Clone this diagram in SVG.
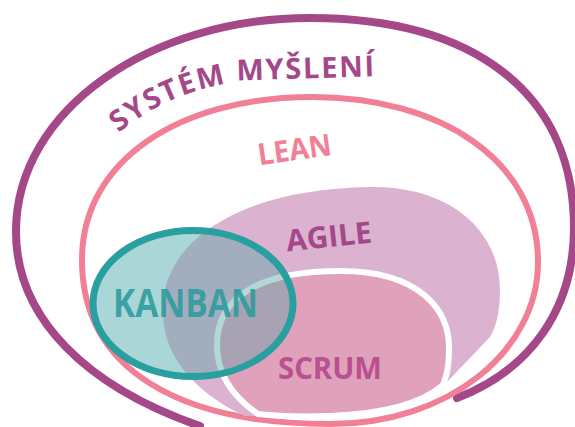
<svg xmlns="http://www.w3.org/2000/svg" width="575" height="427" viewBox="0 0 575 427">
<style>
.lbl{font-family:"Open Sans","Liberation Sans",sans-serif;font-weight:700;}
.ring{fill:none;stroke-linecap:round;stroke-linejoin:round;}
</style>
<defs>
<clipPath id="kclip"><ellipse cx="193" cy="303.5" rx="100" ry="73"/></clipPath>
<path id="agileShape" d="M 245,416 C 192,392 160,352 163,305 C 166,240 240,189 370,187 C 452,186 500,232 500,290 C 500,310 497,325 490,337 L 447,382 C 420,405 380,413 330,415 C 300,416 270,416 245,416 Z"/>
<path id="scrumShape" d="M 258,414 C 230,395 217,372 217,345 C 217,300 255,271 340,271 C 420,271 450,310 449,350 C 449,365 446,378 443,385 C 420,405 380,414 330,416 C 300,417 275,416 258,414 Z"/>
<path id="sysPath" d="M 117,134 C 150,108 185,88 250,80 L 385,76"/>
</defs>
<rect width="575" height="427" fill="#ffffff"/>
<g id="system">
<path class="ring" d="M 200,426 C 90,388 15,320 16,230 C 17,110 150,18 310,18 C 470,18 575,90 574,230 C 573,310 530,370 457,398" stroke="#a5488a" stroke-width="8"/>
</g>
<g id="lean">
<path class="ring" d="M 330,424 C 180,424 82,370 82,260 C 82,160 180,97 312,97 C 440,97 538,160 538,262 C 538,350 450,424 330,424 Z" stroke="#f17f95" stroke-width="6"/>
</g>
<g id="agile">
<use href="#agileShape" fill="#dbb3d0"/>
</g>
<g id="scrum">
<use href="#scrumShape" fill="#e0a1bb" stroke="#ffffff" stroke-width="6"/>
</g>
<g id="kanban">
<ellipse cx="193" cy="303.5" rx="100" ry="73" fill="#86c4c7" fill-opacity="0.7"/>
<g clip-path="url(#kclip)">
<use href="#agileShape" fill="#a2adbd"/>
<use href="#scrumShape" fill="#a8a3b3" stroke="#b2d8d9" stroke-width="6"/>
</g>
<ellipse cx="193" cy="303.5" rx="100" ry="73" fill="none" stroke="#2a9fa0" stroke-width="7"/>
</g>
<g id="labels">
<text class="lbl" font-size="29" fill="#a5488a"><textPath href="#sysPath" startOffset="2" textLength="268" lengthAdjust="spacing">SYSTÉM MYŠLENÍ</textPath></text>
<text class="lbl" font-size="30" fill="#f17f95" x="296" y="160" text-anchor="middle" textLength="74" lengthAdjust="spacingAndGlyphs" transform="rotate(-8 296 160)">LEAN</text>
<text class="lbl" font-size="30" fill="#a5488a" x="330" y="247" text-anchor="middle" textLength="86" lengthAdjust="spacingAndGlyphs" transform="rotate(-6 330 247)">AGILE</text>
<text class="lbl" font-size="40" fill="#2a9b9d" fill-opacity="0.88" x="185.5" y="317" text-anchor="middle" textLength="145" lengthAdjust="spacingAndGlyphs">KANBAN</text>
<text class="lbl" font-size="31" fill="#b9508f" x="330" y="379" text-anchor="middle" textLength="104" lengthAdjust="spacingAndGlyphs">SCRUM</text>
</g>
</svg>
